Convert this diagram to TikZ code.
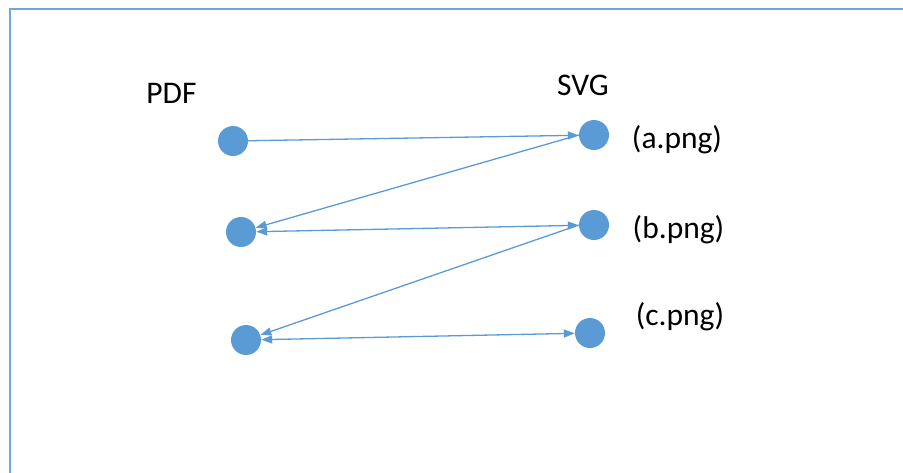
\documentclass[tikz,border=0pt]{standalone}
\usepackage{fontspec}
\setmainfont{Carlito}
\usetikzlibrary{arrows.meta}
\definecolor{dotblue}{HTML}{5B9BD5}
\definecolor{framecol}{HTML}{6FA8DC}
\begin{document}
\begin{tikzpicture}[x=1pt,y=-1pt,
  dot/.style={circle,fill=dotblue,draw=none,minimum size=30pt,inner sep=0pt},
  lbl/.style={font=\fontsize{31.5}{36}\selectfont,anchor=base,inner sep=0pt},
  conn/.style={draw=dotblue,line width=1.3pt,-{Triangle[length=11pt,width=8pt]}},
  bconn/.style={draw=dotblue,line width=1.3pt,{Triangle[length=11pt,width=8pt]}-{Triangle[length=11pt,width=8pt]}}]
\useasboundingbox (0,0) rectangle (903,472);
\begin{scope}
\clip (0,0) rectangle (903,472);
\draw[framecol,line width=1.6pt] (10,9) rectangle (1000,600);
\end{scope}
\node[dot] (p1) at (233,141) {};
\node[dot] (p2) at (241,232) {};
\node[dot] (p3) at (246,340) {};
\node[dot] (sa) at (594,135) {};
\node[dot] (sb) at (594,225) {};
\node[dot] (sc) at (590,333) {};
\node[lbl] (tpdf) at (171.5,103) {PDF};
\node[lbl] (tsvg) at (583,95) {SVG};
\node[lbl] (ta) at (677,148.5) {(a.png)};
\node[lbl] (tb) at (678.5,238.5) {(b.png)};
\node[lbl] (tc) at (680,325) {(c.png)};
\draw[conn] (p1) -- (sa);
\draw[conn] (sa.west) -- (p2);
\draw[bconn] (p2) -- (sb);
\draw[conn] (sb.west) -- (p3);
\draw[bconn] (p3) -- (sc);
\end{tikzpicture}
\end{document}
